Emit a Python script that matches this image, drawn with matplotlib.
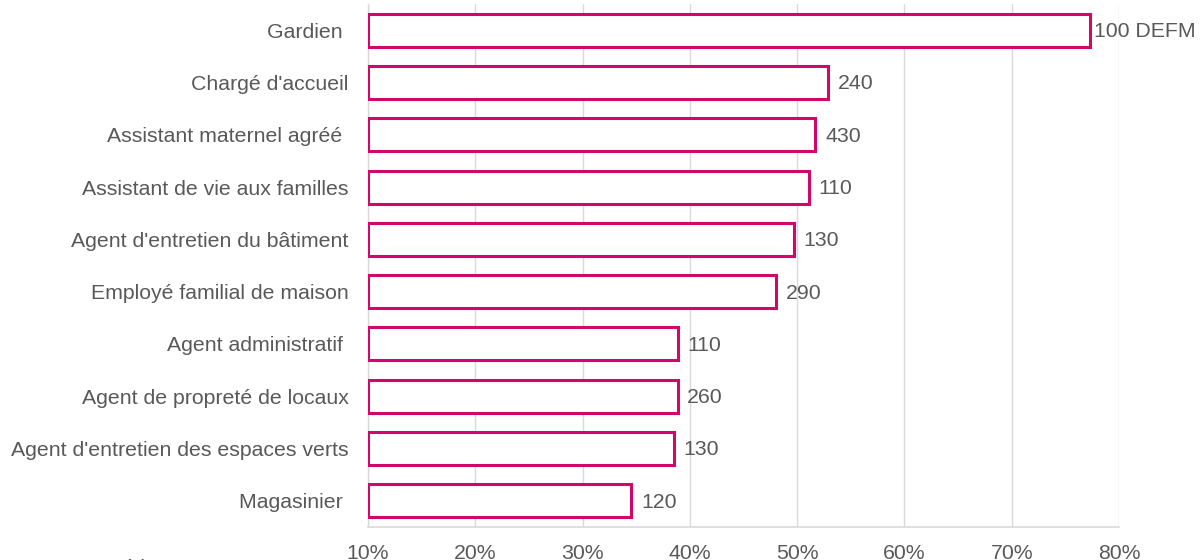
import matplotlib
matplotlib.use("Agg")
import matplotlib.pyplot as plt
from matplotlib.ticker import FuncFormatter

plt.rcParams['font.family'] = ['Liberation Sans', 'DejaVu Sans']

# métiers, du haut vers le bas
metiers = ["Gardien ", "Chargé d'accueil", "Assistant maternel agréé ",
           "Assistant de vie aux familles", "Agent d'entretien du bâtiment",
           "Employé familial de maison", "Agent administratif ",
           "Agent de propreté de locaux", "Agent d'entretien des espaces verts",
           "Magasinier "]
taux = [77.3, 52.9, 51.7, 51.1, 49.7, 48.0, 38.9, 38.85, 38.5, 34.55]
etiquettes = ["100 DEFM", "240", "430", "110", "130", "290", "110", "260", "130", "120"]
xticks = [10, 20, 30, 40, 50, 60, 70, 80]
note = "Tous métiers"

rose = "#D1086A"
gris_txt = "#595959"
gris_grille = "#D9D9D9"

fig = plt.figure(figsize=(12.04, 5.6), dpi=100)
ax = fig.add_axes([368 / 1204, 33 / 560, (1119 - 368) / 1204, (556 - 33) / 560])

pos = list(range(len(metiers)))
ax.barh(pos, [t - 10 for t in taux], left=10, height=0.63,
        facecolor="white", edgecolor=rose, linewidth=2.2, zorder=3)

for i, (t, lab) in enumerate(zip(taux, etiquettes)):
    dx = 3 if i == 0 else 7
    ax.annotate(lab, (t, i), xytext=(dx, -1), textcoords="offset points",
                va="center", ha="left", fontsize=15.3, color=gris_txt, zorder=4)

ax.set_xlim(10, 80)
ax.set_ylim(len(metiers) - 0.5, -0.5)
ax.set_xticks(xticks)
ax.xaxis.set_major_formatter(FuncFormatter(lambda v, p: f"{v:.0f}%"))
ax.set_yticks(pos)
ax.set_yticklabels(metiers)
ax.tick_params(axis="both", length=0, labelsize=15.3, labelcolor=gris_txt)
ax.tick_params(axis="y", pad=14)
ax.tick_params(axis="x", pad=12.5)

ax.grid(axis="x", color=gris_grille, linewidth=1, zorder=0)
ax.set_axisbelow(True)
for s in ["top", "right"]:
    ax.spines[s].set_visible(False)
ax.spines["left"].set_color(gris_grille)
ax.spines["bottom"].set_color(gris_grille)
ax.spines["left"].set_linewidth(1)
ax.spines["bottom"].set_linewidth(1.2)

# note en bas à gauche, coupée par le bord de l'image comme dans l'original
fig.text(54 / 1204, -0.0325, note, ha="left", va="bottom", fontsize=15.3, color=gris_txt)

fig.savefig("out.png", dpi=100, facecolor="white")
